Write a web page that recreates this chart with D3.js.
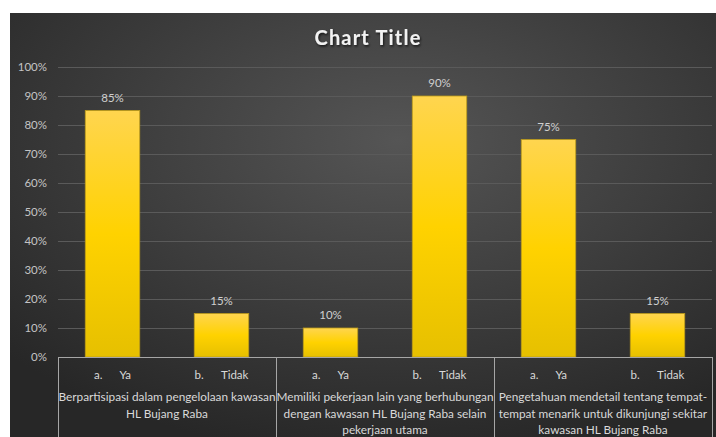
<!DOCTYPE html>
<html>
<head>
<meta charset="utf-8">
<script src="https://cdn.jsdelivr.net/npm/d3@7"></script>
<style>
  html, body { margin: 0; padding: 0; background: #ffffff; }
  svg { display: block; }
</style>
</head>
<body>
<svg id="chart" width="716" height="437"></svg>
<script>
// ---- data ----
const title = "Chart Title";
const groupLabels = [
  ["Berpartisipasi dalam pengelolaan kawasan", "HL Bujang Raba"],
  ["Memiliki pekerjaan lain yang berhubungan", "dengan kawasan HL Bujang Raba selain", "pekerjaan utama"],
  ["Pengetahuan mendetail tentang tempat-", "tempat menarik untuk dikunjungi sekitar", "kawasan HL Bujang Raba"]
];
const optionMarks = ["a.", "b.", "a.", "b.", "a.", "b."];
const optionNames = ["Ya", "Tidak", "Ya", "Tidak", "Ya", "Tidak"];
const values = [0.85, 0.15, 0.10, 0.90, 0.75, 0.15];
const valueLabels = ["85%", "15%", "10%", "90%", "75%", "15%"];
const yTicks = [0, 0.1, 0.2, 0.3, 0.4, 0.5, 0.6, 0.7, 0.8, 0.9, 1.0];

// ---- layout ----
const W = 716, H = 437;
const plot = { left: 58, right: 712, top: 67, bottom: 357 };
const FONT = "Lato, 'Open Sans', sans-serif";

const svg = d3.select("#chart");
const defs = svg.append("defs");

const bg = defs.append("radialGradient").attr("id", "bg")
  .attr("cx", "55%").attr("cy", "30%").attr("r", "75%");
bg.append("stop").attr("offset", "0%").attr("stop-color", "#555555");
bg.append("stop").attr("offset", "100%").attr("stop-color", "#272727");

const barG = defs.append("linearGradient").attr("id", "barG")
  .attr("x1", 0).attr("y1", 0).attr("x2", 0).attr("y2", 1);
barG.append("stop").attr("offset", "0%").attr("stop-color", "#ffd54f");
barG.append("stop").attr("offset", "50%").attr("stop-color", "#ffd200");
barG.append("stop").attr("offset", "100%").attr("stop-color", "#e6c000");

const sh = defs.append("filter").attr("id", "shadow")
  .attr("x", "-20%").attr("y", "-20%").attr("width", "140%").attr("height", "160%");
sh.append("feDropShadow").attr("dx", 1).attr("dy", 1.5).attr("stdDeviation", 1.2)
  .attr("flood-color", "#000").attr("flood-opacity", 0.7);

svg.append("rect").attr("x", 10).attr("y", 13).attr("width", W - 10).attr("height", H - 13)
  .attr("fill", "url(#bg)");

const idx = d3.range(values.length);
const x = d3.scaleBand().domain(idx).range([plot.left, plot.right])
  .paddingInner(0.5).paddingOuter(0.25);
const xg = d3.scaleBand().domain(d3.range(groupLabels.length)).range([plot.left, plot.right]);
const y = d3.scaleLinear().domain([0, 1]).range([plot.bottom, plot.top]);

// gridlines
svg.append("g").selectAll("line").data(yTicks.slice(1)).join("line")
  .attr("x1", plot.left).attr("x2", plot.right)
  .attr("y1", d => Math.round(y(d)) + 0.5).attr("y2", d => Math.round(y(d)) + 0.5)
  .attr("stroke", "#5a5a5a").attr("stroke-width", 1);

// y axis labels
const yAxis = d3.axisLeft(y).tickValues(yTicks).tickFormat(d3.format(".0%")).tickSize(0).tickPadding(0);
const ya = svg.append("g").attr("transform", `translate(47,0)`).call(yAxis);
ya.select(".domain").remove();
ya.selectAll("text").attr("fill", "#c4c4c4").attr("font-family", FONT).attr("font-size", 11.5);

// bars
svg.append("g").selectAll("rect").data(idx).join("rect")
  .attr("x", i => x(i)).attr("width", x.bandwidth())
  .attr("y", i => y(values[i])).attr("height", i => y(0) - y(values[i]))
  .attr("fill", "url(#barG)").attr("stroke", "#b8981a").attr("stroke-width", 0.8);

// value labels
svg.append("g").selectAll("text").data(idx).join("text")
  .attr("x", i => x(i) + x.bandwidth() / 2).attr("y", i => y(values[i]) - 9)
  .attr("text-anchor", "middle").attr("fill", "#cfcfcf")
  .attr("font-family", FONT).attr("font-size", 11.5).text(i => valueLabels[i]);

// category axis lines
const axisCol = "#a6a6a6";
svg.append("line").attr("x1", plot.left).attr("x2", plot.right)
  .attr("y1", plot.bottom + 0.5).attr("y2", plot.bottom + 0.5)
  .attr("stroke", axisCol).attr("stroke-width", 1);
const seps = d3.range(groupLabels.length + 1).map(k => k < groupLabels.length ? xg(k) : plot.right);
svg.append("g").selectAll("line").data(seps).join("line")
  .attr("x1", d => Math.round(d) + 0.5).attr("x2", d => Math.round(d) + 0.5)
  .attr("y1", plot.bottom).attr("y2", H)
  .attr("stroke", axisCol).attr("stroke-width", 1);

// option labels
const opt = svg.append("g").selectAll("text").data(idx).join("text")
  .attr("x", i => x(i) + x.bandwidth() / 2).attr("y", 379)
  .attr("text-anchor", "middle").attr("fill", "#d9d9d9")
  .attr("font-family", FONT).attr("font-size", 11.5);
opt.append("tspan").text(i => optionMarks[i]);
opt.append("tspan").attr("dx", 18).text(i => optionNames[i]);

// group labels
groupLabels.forEach((lines, g) => {
  const t = svg.append("text").attr("text-anchor", "middle").attr("fill", "#d9d9d9")
    .attr("font-family", FONT).attr("font-size", 11.8);
  lines.forEach((ln, k) => {
    t.append("tspan").attr("x", xg(g) + xg.bandwidth() / 2).attr("y", 401 + k * 16.5).text(ln);
  });
});

// title
svg.append("text").attr("x", 368).attr("y", 45).attr("text-anchor", "middle")
  .attr("fill", "#f2f2f2").attr("font-family", FONT).attr("font-weight", "bold")
  .attr("font-size", 20).attr("letter-spacing", 1.2).attr("filter", "url(#shadow)").text(title);
</script>
</body>
</html>
